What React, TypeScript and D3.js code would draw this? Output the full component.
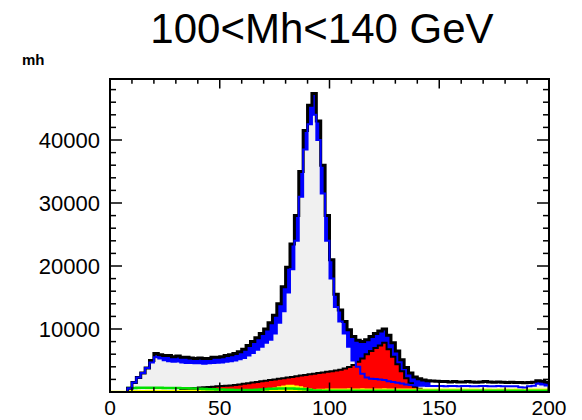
import React from "react";
import * as d3 from "d3";

// 100 bins of 2 GeV from 0 to 200
const binWidth = 2;
const total = [
  0, 0, 0, 0, 600, 1500, 2300, 3000, 3800, 5000,
  6100, 5900, 5800, 5800, 5600, 5700, 5500, 5500, 5400, 5300,
  5400, 5300, 5300, 5500, 5500, 5600, 5800, 5900, 6100, 6400,
  6800, 7400, 8000, 8600, 9300, 10000, 11000, 12200, 14000, 16700,
  19800, 23500, 28000, 35000, 41500, 45500, 47400, 43000, 36000, 28000,
  21000, 15500, 13000, 11200, 9900, 8800, 8200, 8000, 8300, 8800,
  9300, 9700, 10000, 9000, 7800, 6500, 5100, 3900, 3000, 2400,
  2100, 1900, 1800, 1750, 1700, 1650, 1650, 1600, 1650, 1600,
  1600, 1650, 1600, 1550, 1600, 1650, 1600, 1550, 1600, 1550,
  1500, 1550, 1500, 1500, 1450, 1500, 1550, 1800, 1700, 1550,
];
const blueTop = [
  0, 0, 0, 0, 600, 1500, 2300, 3000, 3800, 5000,
  6100, 5900, 5800, 5800, 5600, 5700, 5500, 5500, 5400, 5300,
  5400, 5300, 5300, 5500, 5500, 5600, 5800, 5900, 6100, 6400,
  6800, 7400, 8000, 8600, 9300, 10000, 11000, 12200, 14000, 16700,
  19800, 23500, 28000, 35000, 41500, 45500, 47400, 43000, 36000, 28000,
  21000, 15500, 13000, 11200, 9900, 8800, 8200, 8000, 8300, 8800,
  9300, 9700, 10000, 9000, 7800, 6500, 5100, 3900, 3000, 2400,
  2100, 1900, 1800, 0, 0, 0, 0, 0, 0, 0,
  0, 0, 0, 0, 0, 0, 0, 0, 0, 0,
  0, 0, 0, 0, 0, 0, 0, 1800, 1700, 1500,
];
const zll = [
  0, 0, 0, 0, 600, 1500, 2300, 3000, 3800, 4700,
  5500, 5300, 5050, 4900, 4800, 4850, 4700, 4600, 4600, 4550,
  4550, 4500, 4550, 4600, 4650, 4700, 4800, 4900, 5000, 5200,
  5400, 5800, 6200, 6700, 7200, 7800, 8300, 9300, 11000, 12800,
  15800, 19500, 24000, 31000, 38500, 42500, 44000, 40000, 31500, 24000,
  18000, 13500, 11200, 9300, 7200, 5000, 4000, 2900, 2300, 2100,
  2050, 2000, 1900, 1700, 1600, 1450, 1350, 1200, 1100, 1050,
  1000, 980, 950, 960, 940, 950, 930, 950, 940, 930,
  950, 940, 920, 930, 950, 940, 920, 930, 940, 920,
  900, 920, 900, 750, 700, 900, 1000, 1300, 1200, 1050,
];
const higgs = [
  0, 0, 0, 0, 0, 0, 0, 0, 0, 0,
  0, 0, 0, 0, 0, 0, 500, 550, 600, 650,
  700, 750, 800, 850, 900, 950, 1000, 1050, 1100, 1200,
  1300, 1400, 1500, 1600, 1700, 1800, 1900, 2000, 2100, 2200,
  2300, 2400, 2500, 2600, 2700, 2800, 2900, 3000, 3100, 3200,
  3300, 3400, 3550, 3750, 3950, 4300, 4800, 5300, 6000, 6500,
  7000, 7400, 7800, 6800, 5600, 4400, 3300, 2200, 1400, 850,
  500, 300, 0, 0, 0, 0, 0, 0, 0, 0,
  0, 0, 0, 0, 0, 0, 0, 0, 0, 0,
  0, 0, 0, 0, 0, 0, 0, 0, 0, 0,
];
const yellowBg = [
  200, 200, 200, 200, 320, 330, 340, 330, 340, 350,
  340, 350, 340, 330, 340, 330, 320, 330, 320, 310,
  320, 310, 300, 310, 300, 310, 300, 320, 310, 320,
  330, 340, 350, 370, 400, 450, 500, 700, 900, 1050,
  1150, 1150, 1050, 900, 700, 550, 450, 500, 520, 540,
  550, 560, 570, 560, 580, 570, 560, 580, 570, 560,
  570, 560, 580, 570, 560, 570, 560, 550, 560, 570,
  560, 550, 560, 550, 560, 550, 540, 560, 550, 540,
  550, 540, 550, 540, 530, 550, 540, 530, 540, 550,
  540, 530, 540, 530, 520, 540, 550, 560, 550, 540,
];
const greenBg = [
  0, 0, 0, 0, 620, 650, 680, 670, 660, 680,
  670, 660, 650, 640, 630, 620, 600, 580, 560, 540,
  500, 480, 450, 420, 400, 380, 360, 340, 320, 300,
  300, 300, 320, 350, 400, 450, 500, 520, 550, 550,
  550, 550, 520, 480, 420, 360, 250, 220, 210, 200,
  200, 200, 210, 200, 200, 200, 190, 200, 200, 190,
  200, 190, 200, 190, 200, 190, 190, 200, 190, 190,
  180, 190, 180, 190, 180, 190, 180, 180, 190, 180,
  180, 190, 180, 180, 190, 180, 180, 190, 180, 180,
  180, 190, 180, 180, 170, 180, 190, 180, 180, 180,
];
const xTicks = [0, 50, 100, 150, 200];
const yTicks = [10000, 20000, 30000, 40000];

const W = 582;
const H = 420;
const L = 110, R = 549, T = 79, B = 392;

export default function App() {
  const x = d3.scaleLinear().domain([0, 200]).range([L, R]);
  const y = d3.scaleLinear().domain([0, 49683]).range([B, T]);

  const pts = (arr: number[]) => {
    const p = arr.map((v, i) => [i * binWidth, v] as [number, number]);
    p.push([arr.length * binWidth, arr[arr.length - 1]]);
    return p;
  };
  const area = d3
    .area<[number, number]>()
    .x((d) => x(d[0]))
    .y0(y(0))
    .y1((d) => y(d[1]))
    .curve(d3.curveStepAfter);
  const line = d3
    .line<[number, number]>()
    .x((d) => x(d[0]))
    .y((d) => y(d[1]))
    .curve(d3.curveStepAfter);

  // outline trimmed to the non-empty range, closed down to zero
  const outline = (arr: number[]) => {
    let s = arr.findIndex((v) => v > 0);
    let e = arr.length - 1;
    while (e > 0 && arr[e] <= 0) e--;
    const p: [number, number][] = [[s * binWidth, 0]];
    for (let i = s; i <= e; i++) p.push([i * binWidth, arr[i]]);
    p.push([(e + 1) * binWidth, arr[e]]);
    p.push([(e + 1) * binWidth, 0]);
    return line(p) || "";
  };

  const xMinor = d3.range(0, 201, 10);
  const yMinor = d3.range(0, 49683, 2000);
  const font = "'Liberation Sans', Arial, sans-serif";

  return (
    <div style={{ position: "absolute", left: 0, top: 0 }}>
      <svg width={W} height={H} style={{ display: "block" }}>
        <rect x={0} y={0} width={W} height={H} fill="#ffffff" />
        <defs>
          <clipPath id="plot">
            <rect x={L} y={T} width={R - L} height={B - T} />
          </clipPath>
        </defs>
        <text x={322} y={43} textAnchor="middle" fontFamily={font} fontSize={42} fill="#000">
          100&lt;Mh&lt;140 GeV
        </text>
        <text x={22} y={65} fontFamily={font} fontSize={15} fontWeight="bold" fill="#000">
          mh
        </text>
        <g clipPath="url(#plot)">
          <path d={area(pts(blueTop)) || ""} fill="#0000ff" />
          <path d={area(pts(zll)) || ""} fill="#f0f0f0" />
          <path d={area(pts(higgs)) || ""} fill="#ff0000" />
          <path d={outline(higgs)} fill="none" stroke="#000" strokeWidth={2} />
          <path d={area(pts(yellowBg)) || ""} fill="#ffff00" />
          <path d={outline(greenBg)} fill="none" stroke="#00e000" strokeWidth={2.5} />
          <path d={outline(total)} fill="none" stroke="#000" strokeWidth={3} />
          <path d={outline(zll)} fill="none" stroke="#0000ff" strokeWidth={2} />
        </g>
        {/* frame */}
        <rect x={L} y={T} width={R - L} height={B - T} fill="none" stroke="#000" strokeWidth={2} />
        {/* x ticks top & bottom */}
        {xMinor.map((v) => {
          const major = v % 50 === 0;
          const len = major ? 9.5 : 4.7;
          return (
            <g key={"xt" + v}>
              <line x1={x(v)} x2={x(v)} y1={B} y2={B - len} stroke="#000" strokeWidth={1.5} />
              <line x1={x(v)} x2={x(v)} y1={T} y2={T + len} stroke="#000" strokeWidth={1.5} />
            </g>
          );
        })}
        {/* y ticks left & right */}
        {yMinor.map((v) => {
          const major = v % 10000 === 0;
          const len = major ? 12 : 6;
          return (
            <g key={"yt" + v}>
              <line x1={L} x2={L + len} y1={y(v)} y2={y(v)} stroke="#000" strokeWidth={1.5} />
              <line x1={R} x2={R - len} y1={y(v)} y2={y(v)} stroke="#000" strokeWidth={1.5} />
            </g>
          );
        })}
        {yTicks.map((v) => (
          <text key={"yl" + v} x={100} y={y(v) + 8} textAnchor="end" fontFamily={font} fontSize={22} fill="#000">
            {v}
          </text>
        ))}
        {xTicks.map((v) => (
          <text key={"xl" + v} x={x(v)} y={415} textAnchor="middle" fontFamily={font} fontSize={21} fill="#000">
            {v}
          </text>
        ))}
      </svg>
    </div>
  );
}
